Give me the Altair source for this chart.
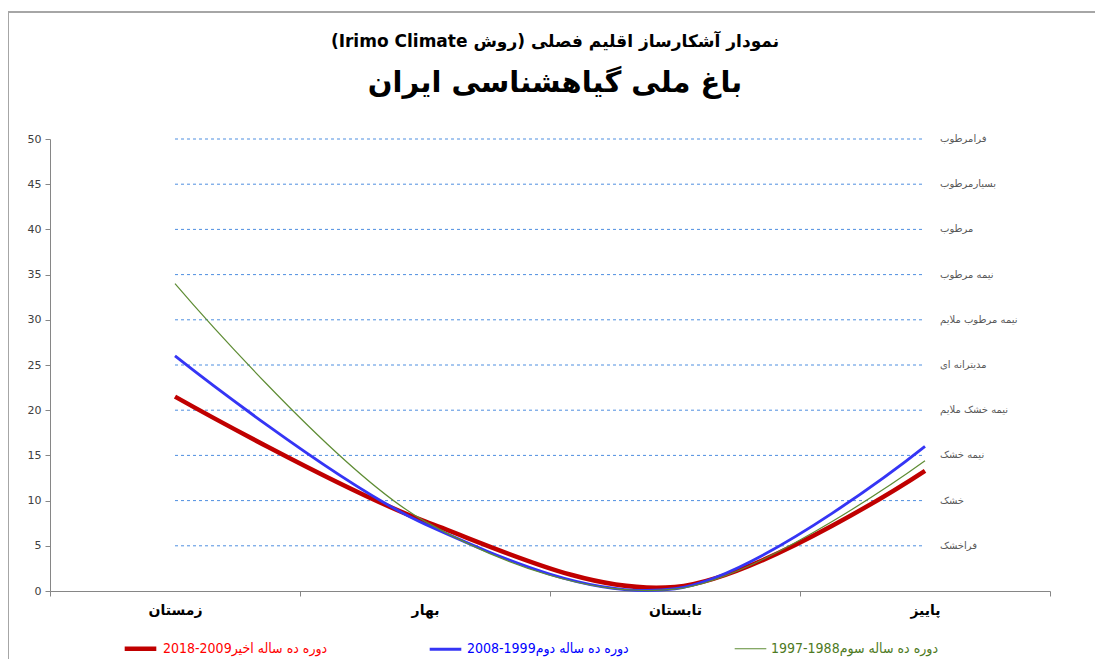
import altair as alt
import pandas as pd

# ---- data ----
seasons = ["زمستان", "بهار", "تابستان", "پاییز"]
series_names = [
    "دوره ده ساله اخیر2009-2018",
    "دوره ده ساله دوم1999-2008",
    "دوره ده ساله سوم1988-1997",
]
recent_vals = [21.5, 7.7, 0.45, 13.3]   # red
second_vals = [26.0, 7.4, 0.25, 16.0]   # blue
third_vals = [34.0, 7.7, 0.2, 14.4]     # green

level_values = [5, 10, 15, 20, 25, 30, 35, 40, 45, 50]
level_labels = [
    "فراخشک", "خشک", "نیمه خشک", "نیمه خشک ملایم", "مدیترانه ای",
    "نیمه مرطوب ملایم", "نیمه مرطوب", "مرطوب", "بسیارمرطوب", "فرامرطوب",
]

title_lines = [
    "نمودار آشکارساز اقلیم فصلی (روش Irimo Climate)",
    "باغ ملی گیاهشناسی ایران",
]

line_colors = ["#C00000", "#3535F5", "#5E8C34"]
legend_text_colors = ["#FF0000", "#0000FF", "#4E7A23"]
line_widths = [4.5, 1.2, 1.2]

RLE, PDF = "\u202B", "\u202C"

# ---- tables ----
rows = []
for name, vals in zip(series_names, [recent_vals, second_vals, third_vals]):
    for i, (s, v) in enumerate(zip(seasons, vals)):
        rows.append({"series": name, "season": s, "pos": i + 0.5, "value": v})
df = pd.DataFrame(rows)

levels = pd.DataFrame({
    "level": level_values,
    "label": level_labels,
    "x0": [0.5] * len(level_values),
    "x1": [len(seasons) - 0.5] * len(level_values),
})

FONT = "DejaVu Sans"
season_list_js = "[" + ",".join("'" + s + "'" for s in seasons) + ",'']"
names_js = "[" + ",".join("'" + s + "'" for s in series_names) + "]"
colors_js = "[" + ",".join("'" + c + "'" for c in legend_text_colors) + "]"

x_scale = alt.Scale(domain=[0, len(seasons)], nice=False, zero=False)
y_scale = alt.Scale(domain=[0, 50], nice=False)

x_axis = alt.Axis(
    values=list(range(len(seasons) + 1)),
    labelExpr=season_list_js + "[datum.value]",
    labelOffset=125,
    labelAlign="center",
    labelFont=FONT,
    labelFontSize=14,
    labelFontWeight="bold",
    labelColor="#000000",
    labelPadding=7,
    tickSize=5,
    tickColor="#868686",
    domainColor="#868686",
    grid=False,
    title=None,
)
y_axis = alt.Axis(
    values=level_values + [0],
    labelFont=FONT,
    labelFontSize=11,
    labelColor="#404040",
    tickSize=5,
    tickColor="#868686",
    domainColor="#868686",
    grid=False,
    title=None,
    labelPadding=4,
)

frame = alt.Chart(pd.DataFrame({"a": [0]})).mark_rect(
    filled=False, stroke="#A6A6A6", strokeWidth=2
).encode(
    x=alt.value(-42), x2=alt.value(1200), y=alt.value(-127), y2=alt.value(800)
)

title1 = alt.Chart(pd.DataFrame({"t": [RLE + title_lines[0] + PDF]})).mark_text(
    font=FONT, fontSize=17, fontWeight="bold", color="#000000",
    align="center", baseline="alphabetic",
).encode(x=alt.value(505), y=alt.value(-92), text="t:N")

title2 = alt.Chart(pd.DataFrame({"t": [RLE + title_lines[1] + PDF]})).mark_text(
    font=FONT, fontSize=29, fontWeight="bold", color="#000000",
    align="center", baseline="alphabetic",
).encode(x=alt.value(505), y=alt.value(-47), text="t:N")

rules = alt.Chart(levels).mark_rule(
    color="#4F8FE0", strokeDash=[3, 3], strokeWidth=1
).encode(
    x=alt.X("x0:Q", scale=x_scale, axis=x_axis),
    x2="x1:Q",
    y=alt.Y("level:Q", scale=y_scale, axis=y_axis),
)

level_text = alt.Chart(levels).mark_text(
    align="left", baseline="middle", dx=15, font=FONT, fontSize=10, color="#595959"
).encode(
    x=alt.X("x1:Q", scale=x_scale),
    y=alt.Y("level:Q", scale=y_scale),
    text="label:N",
)

legend_cfg = dict(
    title=None,
    orient="none",
    legendX=72,
    legendY=491,
    direction="horizontal",
    symbolType="stroke",
    symbolSize=1000,
    gridAlign="all",
    columnPadding=95,
    labelFont="DejaVu Sans Condensed",
    labelFontSize=14,
    labelLimit=400,
    labelOffset=4,
    labelColor={"expr": colors_js + "[indexof(" + names_js + ", datum.value)]"},
)

lines = alt.Chart(df).mark_line(interpolate="catmull-rom").encode(
    x=alt.X("pos:Q", scale=x_scale),
    y=alt.Y("value:Q", scale=y_scale),
    color=alt.Color(
        "series:N",
        scale=alt.Scale(domain=series_names, range=line_colors),
        legend=alt.Legend(**legend_cfg),
    ),
    strokeWidth=alt.StrokeWidth(
        "series:N",
        scale=alt.Scale(domain=series_names, range=line_widths),
        legend=alt.Legend(**legend_cfg),
    ),
    order=alt.Order("pos:Q"),
    detail="series:N",
)

chart = alt.layer(frame, title1, title2, rules, level_text, lines).properties(
    width=1000,
    height=452,
    padding={"left": 42, "top": 131, "right": 45, "bottom": 68},
    autosize=alt.AutoSizeParams(type="none"),
).configure_view(stroke=None)

chart.save("out.html", embed_options={"renderer": "svg", "actions": False})
